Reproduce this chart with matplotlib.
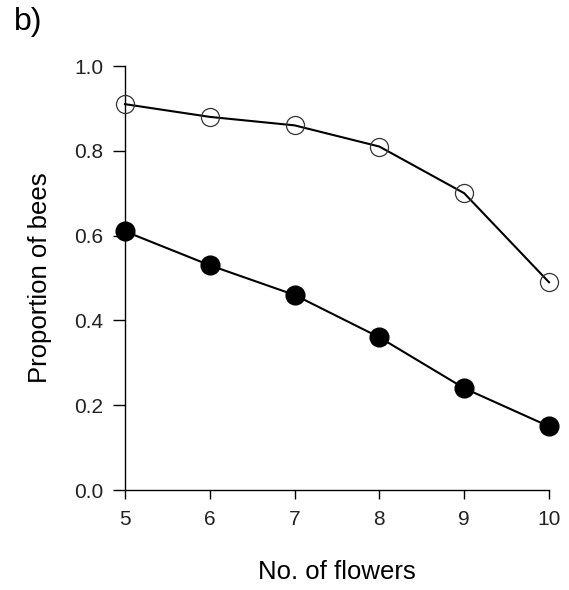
import matplotlib
matplotlib.use('Agg')
import matplotlib.pyplot as plt

flowers = [5, 6, 7, 8, 9, 10]
open_prop = [0.91, 0.88, 0.86, 0.81, 0.70, 0.49]
filled_prop = [0.61, 0.53, 0.46, 0.36, 0.24, 0.15]

plt.rcParams['font.family'] = ['Liberation Sans', 'DejaVu Sans']

fig = plt.figure(figsize=(5.69, 5.90), dpi=100)
ax = fig.add_axes([125 / 569, 1 - 490 / 590, 424 / 569, 424 / 590])

# open circles are hollow, the line runs through them
ax.plot(flowers, open_prop, color='black', lw=1.5, marker='o', ms=13,
        mfc='none', mec='#333333', mew=0.9, clip_on=False, zorder=3)
ax.plot(flowers, filled_prop, color='black', lw=1.5, marker='o', ms=13.5,
        mfc='black', mec='black', clip_on=False, zorder=3)

ax.set_xlim(5, 10)
ax.set_ylim(0, 1.0)
ax.set_xticks(flowers)
ax.set_yticks([0.0, 0.2, 0.4, 0.6, 0.8, 1.0])
ax.set_yticklabels(['0.0', '0.2', '0.4', '0.6', '0.8', '1.0'])

ax.spines['top'].set_visible(False)
ax.spines['right'].set_visible(False)
ax.spines['left'].set_linewidth(1.0)
ax.spines['bottom'].set_linewidth(1.0)
ax.tick_params(direction='out', width=1.0, labelsize=15, labelcolor='#222222')
ax.tick_params(axis='x', length=6.5, pad=8)
ax.tick_params(axis='y', length=8.6, pad=7)

ax.set_xlabel('No. of flowers', fontsize=18.5, labelpad=22)
ax.set_ylabel('Proportion of bees', fontsize=18.5, labelpad=16)

fig.text(14 / 569, 1 - 7 / 590, 'b)', fontsize=23, va='top')

fig.savefig('out.png', dpi=100)
